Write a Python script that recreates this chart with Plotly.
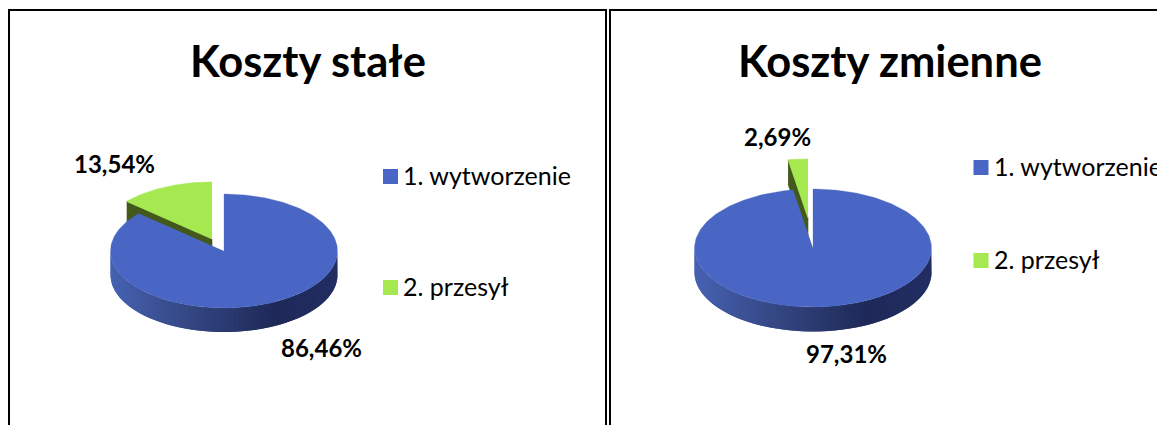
import math
import plotly.graph_objects as go

categories = ["1. wytworzenie", "2. przesył"]
titles = ["Koszty stałe", "Koszty zmienne"]
koszty_stale = [86.46, 13.54]
koszty_zmienne = [97.31, 2.69]

BLUE, GREEN, GREEN_SIDE = "#4a66c4", "#a6e84f", "#43591c"
FONT = "Lato, Carlito, Calibri, sans-serif"
SIDE_STOPS = [(0.0, (70, 98, 178)), (0.35, (52, 70, 130)), (0.72, (30, 41, 88)), (1.0, (34, 46, 98))]

panels = [
    dict(values=koszty_stale, title=titles[0], cx=224, cy=251, rx=113.5, ry=57, depth=24, off=(-12, -12),
         title_x=307.5, lab=[(321, 347.5), (114, 163.5)], mx=390.5, my=[176.5, 287.5], tx=401),
    dict(values=koszty_zmienne, title=titles[1], cx=813, cy=248, rx=118.5, ry=59, depth=24.5, off=(-5, -30),
         title_x=889.5, lab=[(846, 353.5), (777, 136.5)], mx=981, my=[167.5, 260.5], tx=992),
]


def pt(p, deg, dx=0, dy=0):
    t = math.radians(deg)
    return p["cx"] + dx + p["rx"] * math.sin(t), p["cy"] + dy - p["ry"] * math.cos(t)


def arc(p, a, b, dx=0, dy=0, n=120):
    pts = [pt(p, a + (b - a) * i / n, dx, dy) for i in range(n + 1)]
    return [q[0] for q in pts], [q[1] for q in pts]


def side_colour(f):
    for (f0, c0), (f1, c1) in zip(SIDE_STOPS, SIDE_STOPS[1:]):
        if f <= f1:
            k = (f - f0) / (f1 - f0)
            return "rgb(%d,%d,%d)" % tuple(round(u + (v - u) * k) for u, v in zip(c0, c1))
    return "rgb(%d,%d,%d)" % SIDE_STOPS[-1][1]


def poly(xs, ys, colour, line=0.6):
    return go.Scatter(x=xs, y=ys, mode="lines", fill="toself", fillcolor=colour,
                      line=dict(color=colour, width=line), hoverinfo="skip", showlegend=False)


fig = go.Figure()
annotations = []
for p in panels:
    total = sum(p["values"])
    sweep = 360 * p["values"][0] / total
    dx, dy = p["off"]
    d = p["depth"]

    # exploded slice: cut face, then its top
    tip = pt(p, sweep, dx, dy)
    apex = (p["cx"] + dx, p["cy"] + dy)
    fig.add_trace(poly([tip[0], apex[0], apex[0], tip[0]], [tip[1], apex[1], apex[1] + d, tip[1] + d], GREEN_SIDE))
    ax, ay = arc(p, sweep, 360, dx, dy)
    fig.add_trace(poly([apex[0]] + ax, [apex[1]] + ay, GREEN))

    # main slice: shaded rim drawn so each band runs under the next, then its top
    steps = 70
    for i in range(steps):
        a = 90 + 180 * i / steps
        b = 90 + 180 * (i + 2) / steps if i < steps - 1 else 270
        xs, ys = arc(p, a, b, n=4)
        f = (pt(p, a + 90 / steps)[0] - (p["cx"] - p["rx"])) / (2 * p["rx"])
        fig.add_trace(poly(xs + xs[::-1], ys + [v + d for v in ys[::-1]], side_colour(f), line=0))
    ax, ay = arc(p, 0, sweep, n=240)
    fig.add_trace(poly([p["cx"]] + ax, [p["cy"]] + ay, BLUE, line=0.3))

    # legend swatches
    fig.add_trace(go.Scatter(x=[p["mx"]] * 2, y=p["my"], mode="markers", hoverinfo="skip", showlegend=False,
                             marker=dict(symbol="square", size=15, color=[BLUE, GREEN], line=dict(width=0))))

    annotations.append(dict(x=p["title_x"], y=60, text="<b>%s</b>" % p["title"], font=dict(size=43.5, color="#000000")))
    for v, (lx, ly) in zip(p["values"], p["lab"]):
        annotations.append(dict(x=lx, y=ly, text="<b>%s%%</b>" % f"{v:.2f}".replace(".", ","),
                                font=dict(size=24, color="#000000")))
    for c, my in zip(categories, p["my"]):
        annotations.append(dict(x=p["tx"], y=my - 2, text=c, xanchor="left", font=dict(size=25, color="#000000")))

frames = [dict(x0=9, x1=606), dict(x0=610, x1=1200)]
shapes = [dict(type="rect", x0=f["x0"], x1=f["x1"], y0=10, y1=460, line=dict(color="#000000", width=2)) for f in frames]

for a in annotations:
    a.update(showarrow=False, xref="x", yref="y", yanchor="middle")
    a.setdefault("xanchor", "center")

fig.update_layout(
    width=1157, height=425, margin=dict(l=0, r=0, t=0, b=0), autosize=False,
    paper_bgcolor="#ffffff", plot_bgcolor="#ffffff", font=dict(family=FONT),
    xaxis=dict(range=[0, 1157], visible=False, fixedrange=True),
    yaxis=dict(range=[425, 0], visible=False, fixedrange=True),
    annotations=annotations, shapes=shapes, showlegend=False,
)
fig.write_html("out.html", config={"displayModeBar": False},
               post_script="document.body.style.margin='0';document.documentElement.style.overflow='hidden';")
